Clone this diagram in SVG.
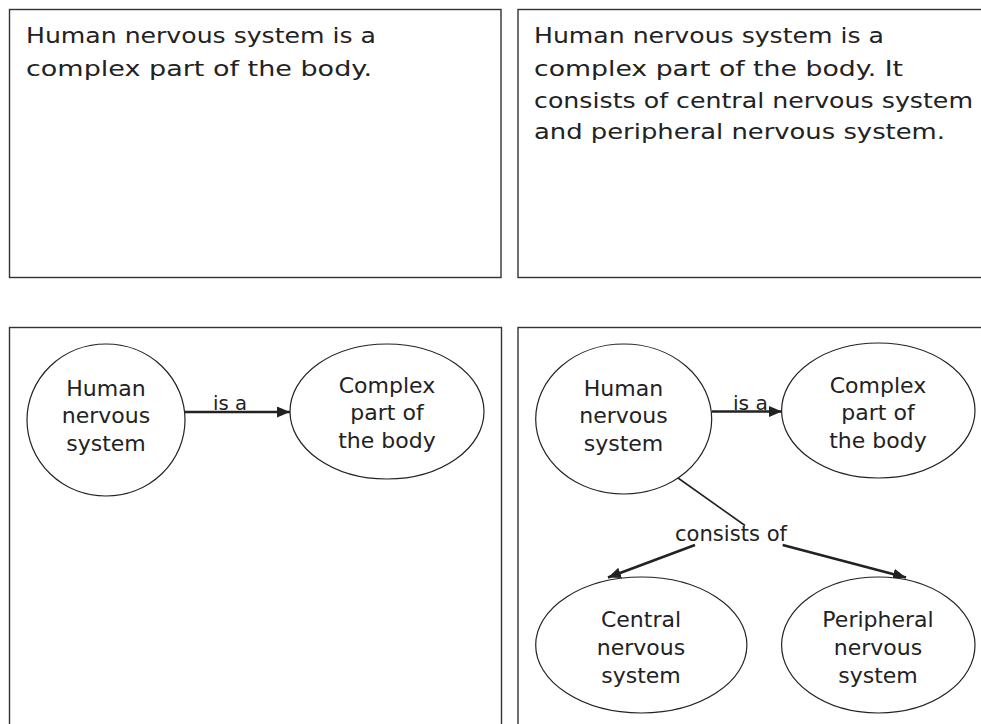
<svg xmlns="http://www.w3.org/2000/svg" width="981" height="724" viewBox="0 0 981 724">
<style>
.panel{fill:#fff;stroke:#333;stroke-width:1.4}
.node{fill:#fff;stroke:#222;stroke-width:1.2}
text{font-family:"DejaVu Sans","Liberation Sans",sans-serif;fill:#222}
.para{font-size:22px}
.lbl{font-size:22px;text-anchor:middle}
.elbl{font-size:20px}
.arr{stroke:#222;stroke-width:2.6;fill:none}
.thin{stroke:#222;stroke-width:1.6;fill:none}
</style>
<defs>
<marker id="ah" markerUnits="userSpaceOnUse" markerWidth="13" markerHeight="11" refX="13" refY="5.5" orient="auto">
<path d="M0,0 L13,5.5 L0,11 z" fill="#222"/>
</marker>
</defs>
<rect width="981" height="724" fill="#fff"/>
<g id="panel1">
<rect class="panel" x="9.5" y="9.5" width="491.5" height="268"/>
<text class="para" x="26" y="43" textLength="350" lengthAdjust="spacingAndGlyphs">Human nervous system is a</text>
<text class="para" x="26" y="76" textLength="346" lengthAdjust="spacingAndGlyphs">complex part of the body.</text>
</g>
<g id="panel2">
<rect class="panel" x="518" y="9.5" width="480" height="268"/>
<text class="para" x="534" y="43" textLength="350" lengthAdjust="spacingAndGlyphs">Human nervous system is a</text>
<text class="para" x="534" y="76" textLength="369" lengthAdjust="spacingAndGlyphs">complex part of the body. It</text>
<text class="para" x="534" y="108" textLength="439" lengthAdjust="spacingAndGlyphs">consists of central nervous system</text>
<text class="para" x="534" y="139" textLength="411" lengthAdjust="spacingAndGlyphs">and peripheral nervous system.</text>
</g>
<g id="panel3">
<rect class="panel" x="9.5" y="327.5" width="492" height="410"/>
</g>
<g id="panel4">
<rect class="panel" x="518" y="327.5" width="480" height="410"/>
</g>
<g id="connectors">
<line class="arr" x1="185" y1="412" x2="290" y2="412" marker-end="url(#ah)"/>
<text class="elbl" x="213" y="410" textLength="34" lengthAdjust="spacingAndGlyphs">is a</text>
<line class="arr" x1="712" y1="411.5" x2="782" y2="411.5" marker-end="url(#ah)"/>
<text class="elbl" x="733" y="410" textLength="35" lengthAdjust="spacingAndGlyphs">is a</text>
<line class="thin" x1="677.3" y1="477.5" x2="745" y2="525.5"/>
<text class="para" x="675" y="541" textLength="112" lengthAdjust="spacingAndGlyphs">consists of</text>
<line class="arr" x1="695" y1="545" x2="608" y2="577.5" marker-end="url(#ah)"/>
<line class="arr" x1="782.7" y1="545" x2="906" y2="577.5" marker-end="url(#ah)"/>
</g>
<g id="n1-human">
<ellipse class="node" cx="106" cy="420" rx="79" ry="76"/>
<text class="lbl" x="106" y="396">Human</text>
<text class="lbl" x="106" y="423">nervous</text>
<text class="lbl" x="106" y="451">system</text>
</g>
<g id="n1-complex">
<ellipse class="node" cx="387" cy="411.5" rx="97" ry="67.5"/>
<text class="lbl" x="387" y="393">Complex</text>
<text class="lbl" x="387" y="420">part of</text>
<text class="lbl" x="387" y="448">the body</text>
</g>
<g id="n2-human">
<ellipse class="node" cx="623.7" cy="419" rx="88" ry="75"/>
<text class="lbl" x="623.5" y="396">Human</text>
<text class="lbl" x="623.5" y="423">nervous</text>
<text class="lbl" x="623.5" y="451">system</text>
</g>
<g id="n2-complex">
<ellipse class="node" cx="878.3" cy="410.5" rx="96.7" ry="67.5"/>
<text class="lbl" x="878" y="393">Complex</text>
<text class="lbl" x="878" y="420">part of</text>
<text class="lbl" x="878" y="448">the body</text>
</g>
<g id="n2-central">
<ellipse class="node" cx="641.3" cy="645" rx="105.6" ry="68"/>
<text class="lbl" x="641" y="627">Central</text>
<text class="lbl" x="641" y="655">nervous</text>
<text class="lbl" x="641" y="683">system</text>
</g>
<g id="n2-peripheral">
<ellipse class="node" cx="878.3" cy="645" rx="96.7" ry="68"/>
<text class="lbl" x="878" y="627">Peripheral</text>
<text class="lbl" x="878" y="655">nervous</text>
<text class="lbl" x="878" y="683">system</text>
</g>
</svg>
